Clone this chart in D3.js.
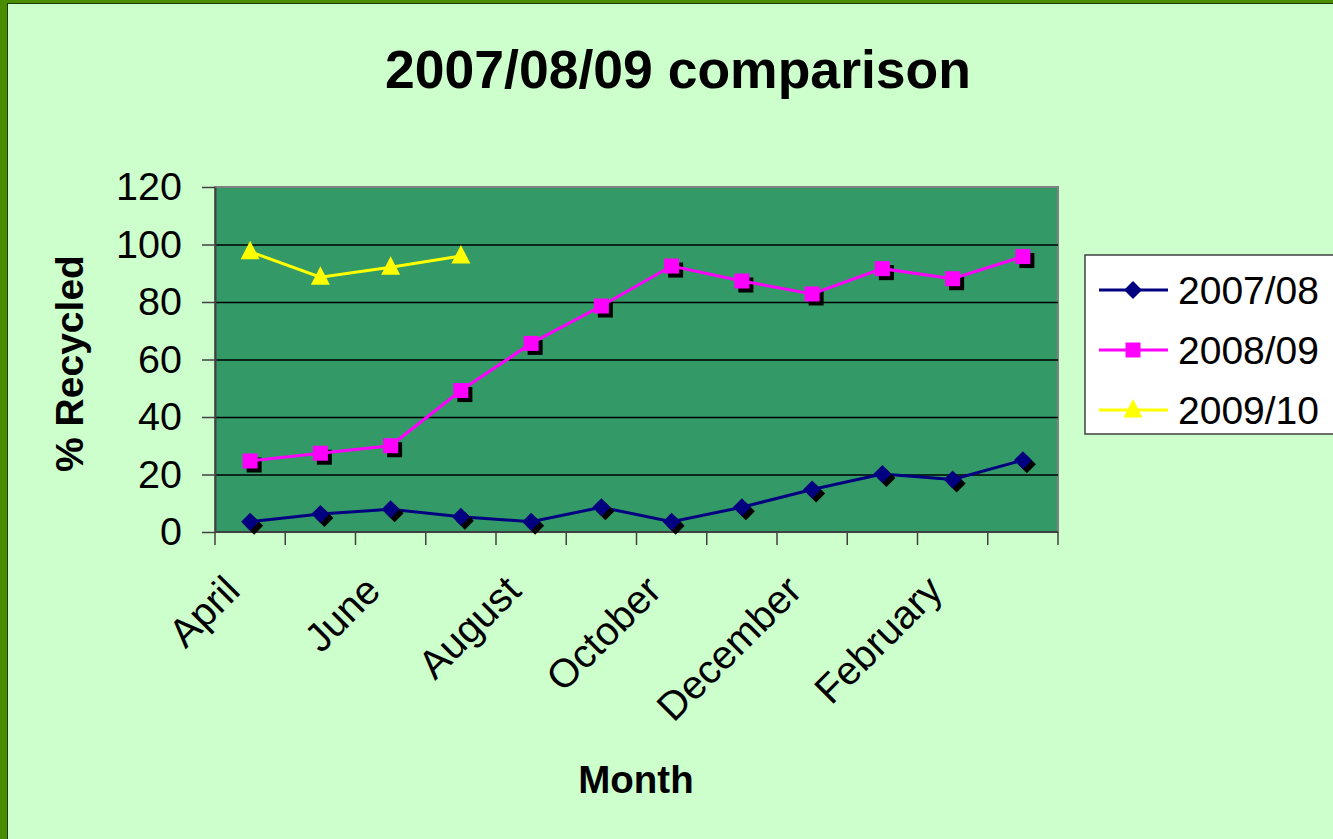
<!DOCTYPE html>
<html>
<head>
<meta charset="utf-8">
<script src="https://cdn.jsdelivr.net/npm/d3@7"></script>
<style>
  body { margin: 0; background: #ccffcc; }
  svg { display: block; font-family: "Liberation Sans", Arial, sans-serif; }
</style>
</head>
<body>
<div id="chart"></div>
<script>
var months = ["April", "May", "June", "July", "August", "September", "October",
              "November", "December", "January", "February", "March"];
var values0708 = [3.6, 6.3, 7.9, 5.3, 3.6, 8.6, 3.6, 8.6, 14.8, 20.2, 18.3, 25.0];
var values0809 = [24.7, 27.4, 30.0, 49.2, 65.6, 78.6, 92.5, 87.3, 82.8, 91.6, 88.1, 95.8];
var values0910 = [97.5, 88.6, 92.1, 96.0];
var seriesNames = ["2007/08", "2008/09", "2009/10"];
var yTicks = [0, 20, 40, 60, 80, 100, 120];

function init() {
    var w = 1333, h = 839;
    var plot = { left: 215, top: 187, right: 1058, bottom: 532 };

    var svg = d3.select("#chart").append("svg")
        .attr("width", w)
        .attr("height", h);

    // outer frame like the slide border
    svg.append("rect").attr("width", w).attr("height", h).attr("fill", "#4a8c00");
    svg.append("rect").attr("x", 7).attr("y", 3).attr("width", w).attr("height", h).attr("fill", "#1f3a00");
    svg.append("rect").attr("x", 8).attr("y", 4).attr("width", w).attr("height", h).attr("fill", "#ccffcc");

    var x = d3.scaleBand()
        .domain(months)
        .range([plot.left, plot.right])
        .padding(0);

    var y = d3.scaleLinear()
        .domain([0, 120])
        .range([plot.bottom, plot.top]);

    // plot background
    svg.append("rect")
        .attr("x", plot.left)
        .attr("y", plot.top)
        .attr("width", plot.right - plot.left)
        .attr("height", plot.bottom - plot.top)
        .attr("fill", "#339966")
        .attr("stroke", "#808080")
        .attr("stroke-width", 2);

    // gridlines
    svg.append("g")
        .attr("transform", "translate(" + plot.left + ",0)")
        .call(d3.axisLeft(y).tickValues(yTicks.slice(1, -1)).tickSize(-(plot.right - plot.left)).tickFormat(""))
        .call(g => g.select(".domain").remove())
        .selectAll("line")
        .attr("stroke", "#000")
        .attr("stroke-width", 1.5);

    // y axis
    var yAxis = svg.append("g")
        .attr("transform", "translate(" + plot.left + ",0)")
        .call(d3.axisLeft(y).tickValues(yTicks).tickSize(13).tickSizeOuter(0).tickPadding(20));
    yAxis.select(".domain").attr("stroke", "#404040").attr("stroke-width", 2);
    yAxis.selectAll("line").attr("stroke", "#404040").attr("stroke-width", 1.5);
    yAxis.selectAll("text")
        .attr("font-size", 39.5)
        .attr("fill", "#000")
        .attr("font-family", "Liberation Sans, Arial, sans-serif");

    // x axis line and tick marks at category boundaries
    svg.append("line")
        .attr("x1", plot.left).attr("x2", plot.right)
        .attr("y1", plot.bottom).attr("y2", plot.bottom)
        .attr("stroke", "#404040").attr("stroke-width", 2);
    var bounds = months.map(m => x(m)).concat([x.range()[1]]);
    svg.append("g").selectAll("line")
        .data(bounds)
        .enter().append("line")
        .attr("x1", d => d).attr("x2", d => d)
        .attr("y1", plot.bottom).attr("y2", plot.bottom + 13)
        .attr("stroke", "#404040").attr("stroke-width", 1.5);

    // x labels, every other month, rotated
    var xAxis = svg.append("g")
        .attr("transform", "translate(0," + plot.bottom + ")")
        .call(d3.axisBottom(x).tickValues(months.filter((m, i) => i % 2 === 0)).tickSize(0));
    xAxis.select(".domain").remove();
    xAxis.selectAll("text")
        .attr("font-size", 40)
        .attr("fill", "#000")
        .attr("font-family", "Liberation Sans, Arial, sans-serif")
        .attr("text-anchor", "end")
        .attr("y", 0)
        .attr("dy", "0.35em")
        .attr("transform", "translate(-18,51) rotate(-45)");

    // titles
    svg.append("text")
        .attr("x", 678).attr("y", 88)
        .attr("text-anchor", "middle")
        .attr("font-size", 53.5).attr("font-weight", "bold")
        .text("2007/08/09 comparison");

    svg.append("text")
        .attr("transform", "translate(83," + ((plot.top + plot.bottom) / 2 + 4) + ") rotate(-90)")
        .attr("text-anchor", "middle")
        .attr("font-size", 39).attr("font-weight", "bold")
        .text("% Recycled");

    svg.append("text")
        .attr("x", 636).attr("y", 793)
        .attr("text-anchor", "middle")
        .attr("font-size", 38.5).attr("font-weight", "bold")
        .text("Month");

    var cx = d => x(d.m) + x.bandwidth() / 2;
    var line = d3.line().x(cx).y(d => y(d.v));

    var data0708 = values0708.map((v, i) => ({ m: months[i], v: v }));
    var data0809 = values0809.map((v, i) => ({ m: months[i], v: v }));
    var data0910 = values0910.map((v, i) => ({ m: months[i], v: v }));

    var diamond = "M0,-9L9,0L0,9L-9,0Z";
    var square = "M-7.5,-7.5H7.5V7.5H-7.5Z";
    var triangle = "M0,-11L9.5,7.5H-9.5Z";

    // 2007/08
    svg.append("path").datum(data0708)
        .attr("d", line).attr("fill", "none")
        .attr("stroke", "#000080").attr("stroke-width", 3);
    svg.append("g").selectAll("path").data(data0708).enter().append("path")
        .attr("d", diamond)
        .attr("transform", d => "translate(" + (cx(d) + 4) + "," + (y(d.v) + 4) + ")")
        .attr("fill", "#000");
    svg.append("g").selectAll("path").data(data0708).enter().append("path")
        .attr("d", diamond)
        .attr("transform", d => "translate(" + cx(d) + "," + y(d.v) + ")")
        .attr("fill", "#000080");

    // 2008/09
    svg.append("g").selectAll("path").data(data0809).enter().append("path")
        .attr("d", square)
        .attr("transform", d => "translate(" + (cx(d) + 4) + "," + (y(d.v) + 4) + ")")
        .attr("fill", "#000");
    svg.append("path").datum(data0809)
        .attr("d", line).attr("fill", "none")
        .attr("stroke", "#ff00ff").attr("stroke-width", 3);
    svg.append("g").selectAll("path").data(data0809).enter().append("path")
        .attr("d", square)
        .attr("transform", d => "translate(" + cx(d) + "," + y(d.v) + ")")
        .attr("fill", "#ff00ff");

    // 2009/10
    svg.append("path").datum(data0910)
        .attr("d", line).attr("fill", "none")
        .attr("stroke", "#ffff00").attr("stroke-width", 3);
    svg.append("g").selectAll("path").data(data0910).enter().append("path")
        .attr("d", triangle)
        .attr("transform", d => "translate(" + cx(d) + "," + y(d.v) + ")")
        .attr("fill", "#ffff00");

    // legend
    var legend = svg.append("g");
    legend.append("rect")
        .attr("x", 1085).attr("y", 255)
        .attr("width", 270).attr("height", 179)
        .attr("fill", "#fff")
        .attr("stroke", "#404040").attr("stroke-width", 1.5);
    var legendItems = [
        { name: seriesNames[0], color: "#000080", shape: diamond },
        { name: seriesNames[1], color: "#ff00ff", shape: square },
        { name: seriesNames[2], color: "#ffff00", shape: triangle }
    ];
    var ly = d3.scalePoint().domain(seriesNames).range([290, 410]);
    legendItems.forEach(function (item) {
        var yy = ly(item.name);
        legend.append("line")
            .attr("x1", 1099).attr("x2", 1168)
            .attr("y1", yy).attr("y2", yy)
            .attr("stroke", item.color).attr("stroke-width", 3);
        legend.append("path")
            .attr("d", item.shape)
            .attr("transform", "translate(1133," + yy + ")")
            .attr("fill", item.color);
        legend.append("text")
            .attr("x", 1178).attr("y", yy)
            .attr("dy", "0.35em")
            .attr("font-size", 39)
            .text(item.name);
    });
}

window.onload = init;
</script>
</body>
</html>
